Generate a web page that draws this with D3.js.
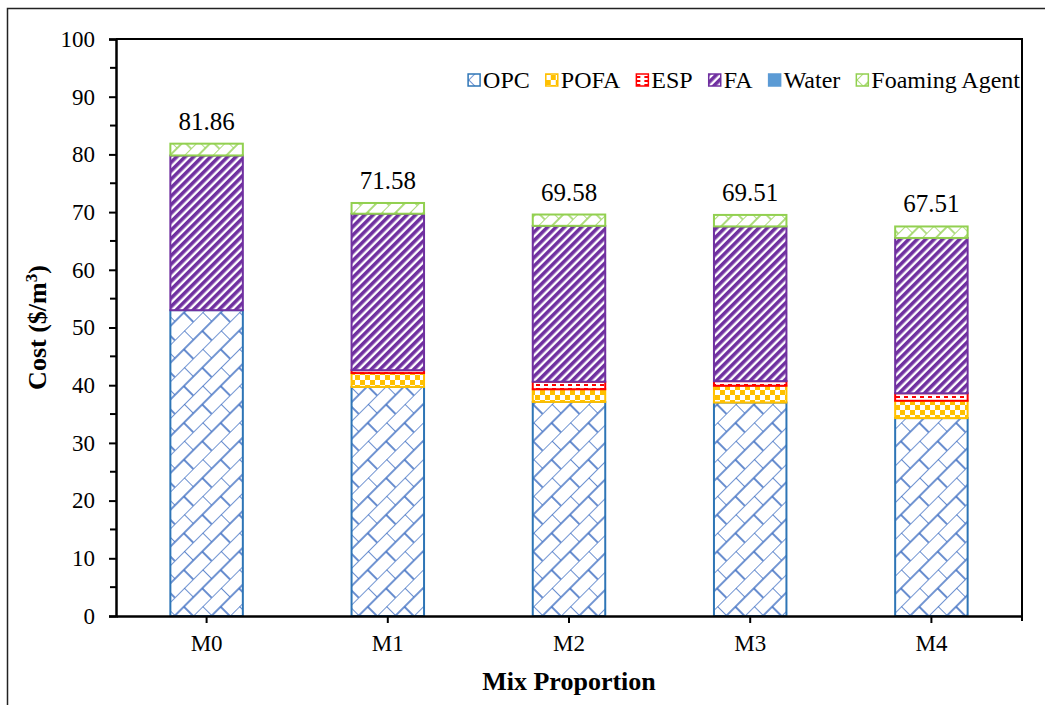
<!DOCTYPE html>
<html>
<head>
<meta charset="utf-8">
<script src="https://cdn.jsdelivr.net/npm/d3@7/dist/d3.min.js"></script>
<style>
  body { margin: 0; background: #fff; }
  svg text { font-family: "Liberation Serif", "Times New Roman", serif; fill: #000; }
</style>
</head>
<body>
<svg id="chart" width="1045" height="705"></svg>
<script>
// data ($/m3)
var mixes = ["M0", "M1", "M2", "M3", "M4"];
var seriesNames = ["OPC", "POFA", "ESP", "FA", "Water", "Foaming Agent"];
var opc = [53.0, 39.7, 37.1, 37.0, 34.3];
var pofa = [0, 2.4, 2.2, 2.9, 3.0];
var esp = [0, 0.5, 1.3, 0.8, 1.3];
var fa = [26.8, 27.1, 27.0, 26.8, 26.9];
var water = [0.02, 0.02, 0.02, 0.02, 0.02];
var foaming = [2.04, 1.86, 1.96, 1.99, 1.99];
var totals = ["81.86", "71.58", "69.58", "69.51", "67.51"];
var yTicks = [0, 10, 20, 30, 40, 50, 60, 70, 80, 90, 100];

var columns = [opc, pofa, esp, fa, water, foaming];
var colors = ["#2E75B6", "#FFC000", "#FF0000", "#7030A0", "#5B9BD5", "#92D050"];
var fills = ["url(#pOPC)", "url(#pPOFA)", "url(#pESP)", "url(#pFA)", "#5B9BD5", "url(#pFoam)"];

// build rows for the stack
var rows = mixes.map(function (m, i) {
  var r = {mix: m, total: totals[i]};
  seriesNames.forEach(function (s, j) { r[s] = columns[j][i]; });
  return r;
});

var svg = d3.select("svg#chart");
var plot = {left: 116, top: 39, right: 1022, bottom: 616};

var x = d3.scaleBand().domain(mixes).range([plot.left, plot.right])
  .paddingInner(0.6).paddingOuter(0.3);
var y = d3.scaleLinear().domain([0, 100]).range([plot.bottom, plot.top]);

// patterns
var defs = svg.append("defs");

function brick(id, color, w, h, sw) {
  var p = defs.append("pattern").attr("id", id).attr("patternUnits", "userSpaceOnUse")
    .attr("width", w).attr("height", h * 2).attr("patternTransform", "rotate(-45)");
  p.append("rect").attr("width", w).attr("height", h * 2).attr("fill", "#fff");
  p.append("path")
    .attr("d", "M0,0H" + w + "M0," + h + "H" + w + "M0,0V" + h + "M" + (w / 2) + "," + h + "V" + (2 * h))
    .attr("stroke", color).attr("stroke-width", sw);
}
brick("pOPC", "#4472C4", 26, 13, 1.6);
brick("pFoam", "#92D050", 20, 10, 1.4);

var pf = defs.append("pattern").attr("id", "pPOFA").attr("patternUnits", "userSpaceOnUse")
  .attr("width", 10).attr("height", 10);
pf.append("rect").attr("width", 10).attr("height", 10).attr("fill", "#fff");
pf.append("rect").attr("width", 5).attr("height", 5).attr("fill", "#FFC000");
pf.append("rect").attr("x", 5).attr("y", 5).attr("width", 5).attr("height", 5).attr("fill", "#FFC000");

var pe = defs.append("pattern").attr("id", "pESP").attr("patternUnits", "userSpaceOnUse")
  .attr("width", 8).attr("height", 4);
pe.append("rect").attr("width", 8).attr("height", 4).attr("fill", "#fff");
pe.append("rect").attr("width", 4).attr("height", 2).attr("fill", "#FF0000");

var pa = defs.append("pattern").attr("id", "pFA").attr("patternUnits", "userSpaceOnUse")
  .attr("width", 6).attr("height", 6).attr("patternTransform", "rotate(45)");
pa.append("rect").attr("width", 6).attr("height", 6).attr("fill", "#fff");
pa.append("rect").attr("width", 3.6).attr("height", 6).attr("fill", "#7030A0");

// outer chart border
svg.append("rect").attr("x", 7.5).attr("y", 8.5).attr("width", 1100).attr("height", 800)
  .attr("fill", "none").attr("stroke", "#222").attr("stroke-width", 1.5);

// stacked bars
var stacked = d3.stack().keys(seriesNames)(rows);

svg.append("g")
  .selectAll("g")
  .data(stacked)
  .enter()
  .append("g")
  .attr("fill", function (d, i) { return fills[i]; })
  .attr("stroke", function (d, i) { return i == 4 ? "none" : colors[i]; })
  .attr("stroke-width", 2)
  .selectAll("rect")
  .data(function (d) { return d.filter(function (s) { return s[1] - s[0] > 0; }); })
  .enter()
  .append("rect")
  .attr("x", function (d) { return x(d.data.mix); })
  .attr("width", x.bandwidth())
  .attr("y", function (d) { return y(d[1]); })
  .attr("height", function (d) { return y(d[0]) - y(d[1]); });

// total labels
svg.append("g")
  .selectAll("text")
  .data(rows)
  .enter()
  .append("text")
  .attr("x", function (d) { return x(d.mix) + x.bandwidth() / 2; })
  .attr("y", function (d) { return y(+d.total) - 14; })
  .attr("text-anchor", "middle")
  .style("font-size", "25px")
  .text(function (d) { return d.total; });

// plot frame: top and right
svg.append("path")
  .attr("d", "M" + plot.left + "," + plot.top + "H" + plot.right + "V" + (plot.bottom + 5))
  .attr("fill", "none").attr("stroke", "#000").attr("stroke-width", 2);

// y axis
var yAxis = svg.append("g").attr("transform", "translate(" + plot.left + ",0)")
  .call(d3.axisLeft(y).tickValues(yTicks).tickSize(7).tickPadding(14));
yAxis.selectAll("text").style("font-size", "23px");
yAxis.append("g").selectAll("line")
  .data(d3.range(5, 100, 10))
  .enter().append("line")
  .attr("x1", -6).attr("x2", 0)
  .attr("y1", function (d) { return y(d); }).attr("y2", function (d) { return y(d); })
  .attr("stroke", "#000").attr("stroke-width", 2);

// x axis
var xAxis = svg.append("g").attr("transform", "translate(0," + plot.bottom + ")")
  .call(d3.axisBottom(x).tickSize(7).tickPadding(12).tickSizeOuter(0));
xAxis.selectAll("text").style("font-size", "23px");

svg.selectAll(".domain, .tick line").attr("stroke", "#000").attr("stroke-width", 2);
svg.selectAll(".domain").attr("stroke-width", 2.5);

// axis titles
svg.append("text")
  .attr("transform", "translate(46," + ((plot.top + plot.bottom) / 2) + ") rotate(-90)")
  .attr("text-anchor", "middle")
  .style("font-size", "26px").style("font-weight", "bold")
  .html("Cost ($/m<tspan dy='-9' font-size='17px'>3</tspan><tspan dy='9'>)</tspan>");

svg.append("text")
  .attr("x", (plot.left + plot.right) / 2)
  .attr("y", 690)
  .attr("text-anchor", "middle")
  .style("font-size", "26px").style("font-weight", "bold")
  .text("Mix Proportion");

// legend, laid out right to left so it ends at the plot's right edge
var legend = svg.append("g")
  .selectAll("g")
  .data(seriesNames)
  .enter()
  .append("g");
legend.append("rect")
  .attr("x", 0).attr("y", -6).attr("width", 12).attr("height", 12)
  .attr("fill", function (d, i) { return fills[i]; })
  .attr("stroke", function (d, i) { return colors[i]; })
  .attr("stroke-width", 1.5);
legend.append("text")
  .attr("x", 15).attr("y", 8)
  .style("font-size", "24px")
  .text(function (d) { return d; });

var cursor = 1020;
var widths = [];
legend.select("text").each(function () { widths.push(this.getComputedTextLength()); });
var pos = [];
for (var i = seriesNames.length - 1; i >= 0; i--) {
  cursor -= widths[i] + 15;
  pos[i] = cursor;
  cursor -= 16;
}
legend.attr("transform", function (d, i) { return "translate(" + pos[i] + ",80)"; });
</script>
</body>
</html>
